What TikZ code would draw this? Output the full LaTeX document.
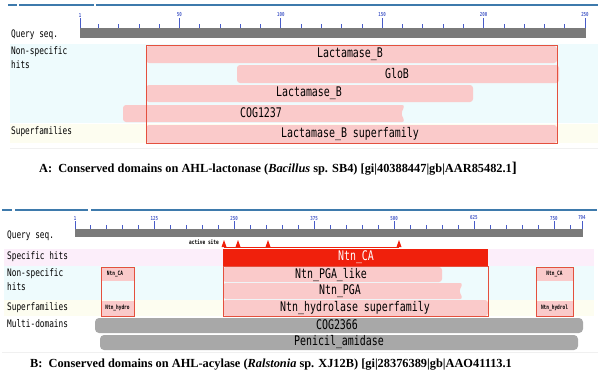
\documentclass[tikz,border=0pt]{standalone}
\usepackage{fontspec}
\setmainfont{Liberation Serif}
\newfontfamily\cddfont[FakeStretch=0.75]{DejaVu Sans Mono}
\usetikzlibrary{positioning}

\definecolor{hitpink}{RGB}{250,202,202}
\definecolor{hitred}{RGB}{228,80,62}
\definecolor{specred}{RGB}{240,32,12}
\definecolor{nsbg}{RGB}{238,251,253}
\definecolor{sfbg}{RGB}{253,253,240}
\definecolor{spbg}{RGB}{252,238,250}
\definecolor{qgray}{RGB}{122,122,122}
\definecolor{mdgray}{RGB}{168,168,168}
\definecolor{topblue}{RGB}{62,122,172}
\definecolor{tickblue}{RGB}{72,92,200}

\tikzset{
    hit/.style={fill=hitpink, rounded corners=3bp},
    outline/.style={draw=hitred, line width=0.8bp},
    multi/.style={fill=mdgray, rounded corners=4bp},
    topline/.style={draw=topblue, line width=2bp},
    tickline/.style={draw=tickblue, line width=0.6bp},
    rowlab/.style={anchor=west, inner sep=0pt, font=\cddfont\fontsize{10.4}{10}\selectfont},
    barlab/.style={inner sep=0pt, font=\cddfont\fontsize{13.3}{13}\selectfont},
    ticklab/.style={inner sep=0pt, text=tickblue, font=\cddfont\bfseries\fontsize{5.5}{5}\selectfont},
    tinylab/.style={inner sep=0pt, font=\cddfont\bfseries\fontsize{6}{6}\selectfont},
    caption/.style={inner sep=0pt, font=\bfseries\fontsize{12.4}{13}\selectfont}
}

\begin{document}
\begin{tikzpicture}[x=1bp, y=-1bp]
    \useasboundingbox (0,0) rectangle (600,372);

    % Panel A (AHL-lactonase)
    \draw[topline] (8,5) -- (17,5);
    \draw[topline] (19,5) -- (94,5);
    \draw[topline] (96,5) -- (598,5);

    \fill[nsbg] (10,44) rectangle (598,123);
    \fill[sfbg] (10,124) rectangle (598,143);
    \draw[gray!12] (10,148) -- (598,148);

    % ruler
    \foreach \p in {10,20,...,240}
        \draw[tickline] ({80+2.028*(\p-1)},24) -- ++(0,4);
    \foreach \p in {1,50,100,150,200,250} {
        \draw[tickline] ({80+2.028*(\p-1)},18) -- ++(0,10);
        \node[ticklab] (ta\p) at ({80+2.028*(\p-1)},15) {\p};
    }
    \fill[qgray] (80,28) rectangle (586,38);

    \node[rowlab] (qsA) at (11,35) {Query seq.};
    \node[rowlab] (nsA) at (11,52) {Non-specific};
    \node[rowlab] (hitsA) [below=3bp of nsA.south west, anchor=north west] {hits};
    \node[rowlab] (sfA) at (11,132) {Superfamilies};

    % hits
    \fill[hit] (146,46) rectangle (557,63);
    \fill[hit] (237,65) rectangle (559,83);
    \fill[hit] (146,85) rectangle (473,102);
    \fill[hit] (123,105) -- (405,105) -- (401,113.5) -- (405,122) -- (123,122) -- cycle;
    \fill[hit] (146,125) rectangle (557,143);
    \draw[outline] (146,45) rectangle (557,143);

    \node[barlab] (lacb1) at (350,54) {Lactamase\_B};
    \node[barlab] (glob) at (397,74) {GloB};
    \node[barlab] (lacb2) at (309,93) {Lactamase\_B};
    \node[barlab] (cog1237) at (261,113) {COG1237};
    \node[barlab] (lacbsf) at (350,134) {Lactamase\_B superfamily};

    \node[caption] (capA) at (278,169)
        {A:\ \ Conserved domains on AHL-lactonase (\textit{Bacillus} sp. SB4) [gi|40388447|gb|AAR85482.1{\fontsize{15}{15}\selectfont]}};

    % Panel B (AHL-acylase)
    \draw[topline] (2,209.5) -- (12,209.5);
    \draw[topline] (15,209.5) -- (88,209.5);
    \draw[topline] (91,209.5) -- (597,209.5);

    \fill[spbg] (4,249) rectangle (594,266);
    \fill[nsbg] (4,266) rectangle (594,300);
    \fill[sfbg] (4,300) rectangle (594,316);
    \draw[gray!12] (2,352) -- (598,352);

    % ruler
    \foreach \p in {25,50,...,775}
        \draw[tickline] ({75+0.6393*(\p-1)},225) -- ++(0,4);
    \foreach \p in {1,125,250,375,500,625,750,794} {
        \draw[tickline] ({75+0.6393*(\p-1)},221) -- ++(0,8);
        \node[ticklab] (tb\p) at ({75+0.6393*(\p-1)},218) {\p};
    }
    \fill[qgray] (75,229) rectangle (583,237);

    % active site
    \node[tinylab, anchor=east] (asite) at (219,242) {active site};
    \draw[specred, line width=0.6bp] (224,247) -- (399,247);
    \foreach \x in {224,238,268,399}
        \fill[specred] (\x-2.5,247) -- (\x,240) -- (\x+2.5,247) -- cycle;

    \node[rowlab] (qsB) at (7,236) {Query seq.};
    \node[rowlab] (spB) at (7,257) {Specific hits};
    \node[rowlab] (nsB) at (7,274) {Non-specific};
    \node[rowlab] (hitsB) [below=3bp of nsB.south west, anchor=north west] {hits};
    \node[rowlab] (sfB) at (7,308) {Superfamilies};
    \node[rowlab] (mdB) at (7,324) {Multi-domains};

    % specific and non-specific hits
    \fill[specred] (223,249) rectangle (488,266);
    \fill[hit] (223,267) rectangle (442,282);
    \fill[hit] (223,283) -- (463,283) -- (459,291) -- (463,299) -- (223,299) -- cycle;
    \fill[hit] (223,300) rectangle (488,316);
    \draw[outline] (223,266) rectangle (488,316);

    \node[barlab, text=white] (ntnca) at (356,257) {Ntn\_CA};
    \node[barlab] (pgalike) at (331,274.5) {Ntn\_PGA\_like};
    \node[barlab] (pga) at (340,291) {Ntn\_PGA};
    \node[barlab] (ntnsf) at (355,308) {Ntn\_hydrolase superfamily};

    % small hits at both ends
    \fill[hitpink] (101,267) rectangle (134,281);
    \fill[hitpink] (101,301) rectangle (134,316);
    \draw[outline] (101,267) rectangle (134,316);
    \node[tinylab] (caL) at (115,274) {Ntn\_CA};
    \node[tinylab] (hyL) at (117.5,308) {Ntn\_hydro};

    \fill[hitpink] (536,267) rectangle (573,281);
    \fill[hitpink] (536,301) rectangle (573,316);
    \draw[outline] (536,267) rectangle (573,316);
    \node[tinylab] (caR) at (554.5,274) {Ntn\_CA};
    \node[tinylab] (hyR) at (554.5,308) {Ntn\_hydrol};

    % multi-domains
    \fill[multi] (95,318) rectangle (583,333);
    \fill[multi] (100,335) rectangle (578,350);
    \node[barlab] (cog2366) at (337,325) {COG2366};
    \node[barlab] (penam) at (339,342) {Penicil\_amidase};

    \node[caption] (capB) at (271,365)
        {B:\ \ Conserved domains on AHL-acylase (\textit{Ralstonia} sp. XJ12B) [gi|28376389|gb|AAO41113.1};

\end{tikzpicture}
\end{document}
